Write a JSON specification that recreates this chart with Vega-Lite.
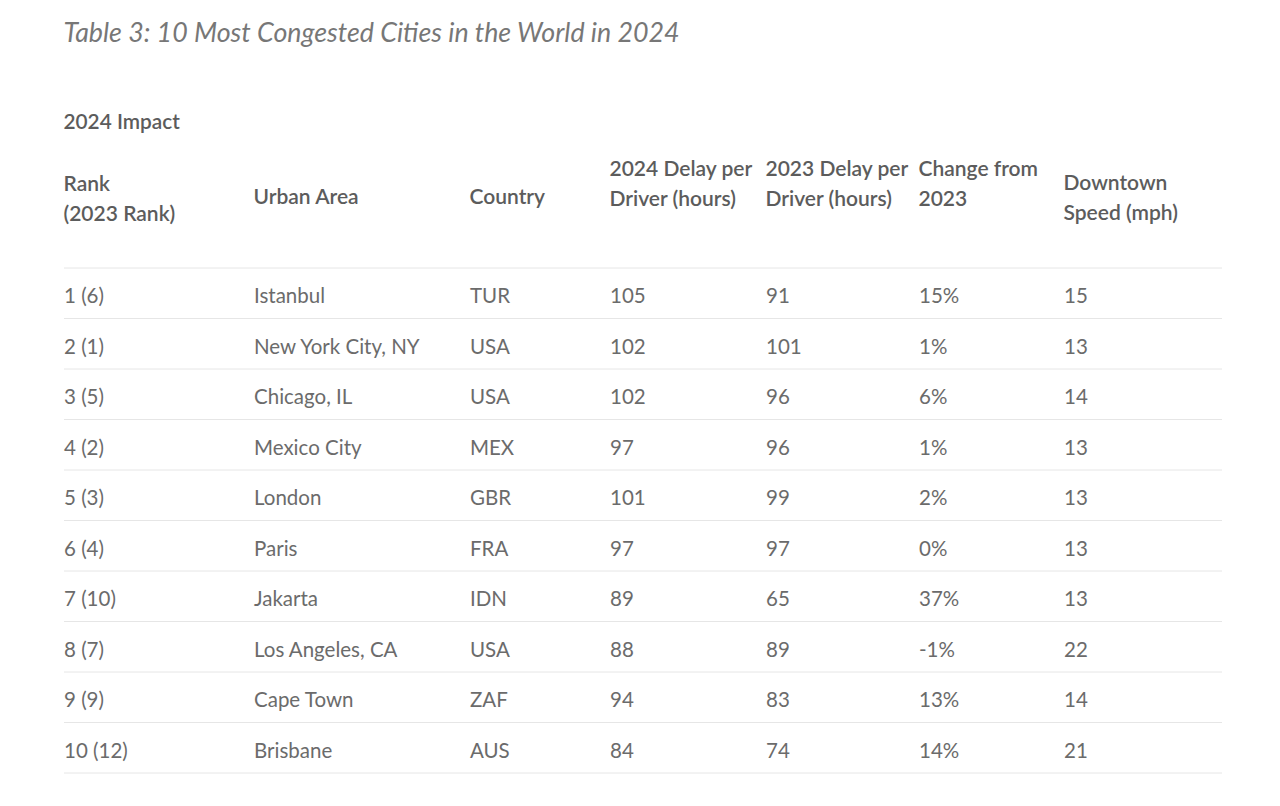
{
  "$schema": "https://vega.github.io/schema/vega-lite/v6.json",
  "background": "white",
  "padding": {"left": 63, "top": 20, "right": 0, "bottom": 0},
  "spacing": 0,
  "bounds": "flush",
  "title": {
    "text": "Table 3: 10 Most Congested Cities in the World in 2024",
    "subtitle": "2024 Impact",
    "anchor": "start",
    "font": "Lato", "fontSize": 26.8, "fontStyle": "italic", "fontWeight": "normal", "color": "#777777",
    "subtitleFont": "Lato", "subtitleFontSize": 20.8, "subtitleFontWeight": 600, "subtitleColor": "#5c5c5c",
    "subtitlePadding": 65, "offset": 26
  },
  "data": {"values": [
    {"rank": "1 (6)", "city": "Istanbul", "country": "TUR", "d2024": 105, "d2023": 91, "change": "15%", "speed": 15},
    {"rank": "2 (1)", "city": "New York City, NY", "country": "USA", "d2024": 102, "d2023": 101, "change": "1%", "speed": 13},
    {"rank": "3 (5)", "city": "Chicago, IL", "country": "USA", "d2024": 102, "d2023": 96, "change": "6%", "speed": 14},
    {"rank": "4 (2)", "city": "Mexico City", "country": "MEX", "d2024": 97, "d2023": 96, "change": "1%", "speed": 13},
    {"rank": "5 (3)", "city": "London", "country": "GBR", "d2024": 101, "d2023": 99, "change": "2%", "speed": 13},
    {"rank": "6 (4)", "city": "Paris", "country": "FRA", "d2024": 97, "d2023": 97, "change": "0%", "speed": 13},
    {"rank": "7 (10)", "city": "Jakarta", "country": "IDN", "d2024": 89, "d2023": 65, "change": "37%", "speed": 13},
    {"rank": "8 (7)", "city": "Los Angeles, CA", "country": "USA", "d2024": 88, "d2023": 89, "change": "-1%", "speed": 22},
    {"rank": "9 (9)", "city": "Cape Town", "country": "ZAF", "d2024": 94, "d2023": 83, "change": "13%", "speed": 14},
    {"rank": "10 (12)", "city": "Brisbane", "country": "AUS", "d2024": 84, "d2023": 74, "change": "14%", "speed": 21}
  ]},
  "config": {
    "view": {"stroke": null},
    "title": {"anchor": "start", "font": "Lato", "fontSize": 21, "fontWeight": 600, "color": "#5c5c5c", "lineHeight": 30},
    "text": {"font": "Lato", "fontSize": 20.5, "color": "#6b6b6b", "align": "left", "baseline": "middle", "dy": 4},
    "rule": {"color": "#e6e6e6", "strokeWidth": 1},
    "scale": {"bandPaddingInner": 0, "bandPaddingOuter": 0}
  },
  "hconcat": [
    {
      "width": 190, "height": 505,
      "title": {"text": ["Rank", "(2023 Rank)"], "offset": 43},
      "layer": [
        {"mark": "rule", "encoding": {"y": {"field": "rank", "type": "ordinal", "sort": null, "bandPosition": 1, "axis": null}}},
        {"transform": [{"filter": "datum.rank == '1 (6)'"}], "mark": "rule", "encoding": {"y": {"field": "rank", "type": "ordinal", "sort": null, "bandPosition": 0, "axis": null}}},
        {"mark": "text", "encoding": {"y": {"field": "rank", "type": "ordinal", "sort": null, "axis": null}, "x": {"value": 0}, "text": {"field": "rank"}}}
      ]
    },
    {
      "width": 216, "height": 505,
      "title": {"text": "Urban Area", "offset": 60},
      "layer": [
        {"mark": "rule", "encoding": {"y": {"field": "rank", "type": "ordinal", "sort": null, "bandPosition": 1, "axis": null}}},
        {"transform": [{"filter": "datum.rank == '1 (6)'"}], "mark": "rule", "encoding": {"y": {"field": "rank", "type": "ordinal", "sort": null, "bandPosition": 0, "axis": null}}},
        {"mark": "text", "encoding": {"y": {"field": "rank", "type": "ordinal", "sort": null, "axis": null}, "x": {"value": 0}, "text": {"field": "city"}}}
      ]
    },
    {
      "width": 140, "height": 505,
      "title": {"text": "Country", "offset": 60},
      "layer": [
        {"mark": "rule", "encoding": {"y": {"field": "rank", "type": "ordinal", "sort": null, "bandPosition": 1, "axis": null}}},
        {"transform": [{"filter": "datum.rank == '1 (6)'"}], "mark": "rule", "encoding": {"y": {"field": "rank", "type": "ordinal", "sort": null, "bandPosition": 0, "axis": null}}},
        {"mark": "text", "encoding": {"y": {"field": "rank", "type": "ordinal", "sort": null, "axis": null}, "x": {"value": 0}, "text": {"field": "country"}}}
      ]
    },
    {
      "width": 156, "height": 505,
      "title": {"text": ["2024 Delay per", "Driver (hours)"], "offset": 58},
      "layer": [
        {"mark": "rule", "encoding": {"y": {"field": "rank", "type": "ordinal", "sort": null, "bandPosition": 1, "axis": null}}},
        {"transform": [{"filter": "datum.rank == '1 (6)'"}], "mark": "rule", "encoding": {"y": {"field": "rank", "type": "ordinal", "sort": null, "bandPosition": 0, "axis": null}}},
        {"mark": "text", "encoding": {"y": {"field": "rank", "type": "ordinal", "sort": null, "axis": null}, "x": {"value": 0}, "text": {"field": "d2024"}}}
      ]
    },
    {
      "width": 153, "height": 505,
      "title": {"text": ["2023 Delay per", "Driver (hours)"], "offset": 58},
      "layer": [
        {"mark": "rule", "encoding": {"y": {"field": "rank", "type": "ordinal", "sort": null, "bandPosition": 1, "axis": null}}},
        {"transform": [{"filter": "datum.rank == '1 (6)'"}], "mark": "rule", "encoding": {"y": {"field": "rank", "type": "ordinal", "sort": null, "bandPosition": 0, "axis": null}}},
        {"mark": "text", "encoding": {"y": {"field": "rank", "type": "ordinal", "sort": null, "axis": null}, "x": {"value": 0}, "text": {"field": "d2023"}}}
      ]
    },
    {
      "width": 145, "height": 505,
      "title": {"text": ["Change from", "2023"], "offset": 58},
      "layer": [
        {"mark": "rule", "encoding": {"y": {"field": "rank", "type": "ordinal", "sort": null, "bandPosition": 1, "axis": null}}},
        {"transform": [{"filter": "datum.rank == '1 (6)'"}], "mark": "rule", "encoding": {"y": {"field": "rank", "type": "ordinal", "sort": null, "bandPosition": 0, "axis": null}}},
        {"mark": "text", "encoding": {"y": {"field": "rank", "type": "ordinal", "sort": null, "axis": null}, "x": {"value": 0}, "text": {"field": "change"}}}
      ]
    },
    {
      "width": 158, "height": 505,
      "title": {"text": ["Downtown", "Speed (mph)"], "offset": 44},
      "layer": [
        {"mark": "rule", "encoding": {"y": {"field": "rank", "type": "ordinal", "sort": null, "bandPosition": 1, "axis": null}}},
        {"transform": [{"filter": "datum.rank == '1 (6)'"}], "mark": "rule", "encoding": {"y": {"field": "rank", "type": "ordinal", "sort": null, "bandPosition": 0, "axis": null}}},
        {"mark": "text", "encoding": {"y": {"field": "rank", "type": "ordinal", "sort": null, "axis": null}, "x": {"value": 0}, "text": {"field": "speed"}}}
      ]
    }
  ]
}
